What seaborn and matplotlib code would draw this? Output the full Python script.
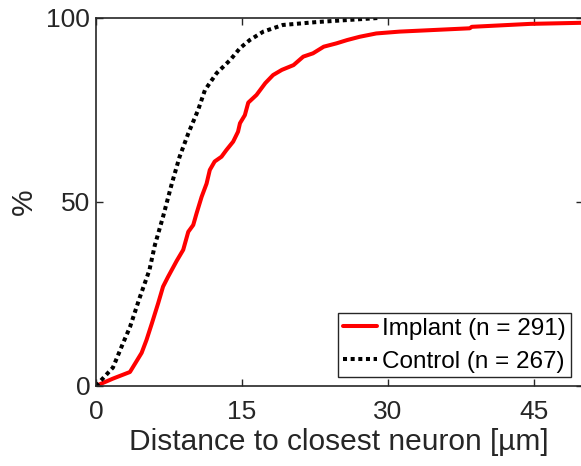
import matplotlib
matplotlib.use("Agg")
import matplotlib.pyplot as plt
import seaborn as sns
import pandas as pd

# cumulative distribution of distance to closest neuron
implant_x = [0, 1.75, 3.5, 4.7, 5.2, 5.75, 6.4, 6.9, 7.4, 8.3, 8.97, 9.49, 10.0,
             10.34, 10.86, 11.37, 11.7, 12.2, 12.9, 13.4, 14.1, 14.6, 14.8, 15.3,
             15.65, 16.5, 17.4, 18.2, 19.1, 20.3, 21.3, 22.3, 23.4, 24.7, 25.8,
             27.1, 28.8, 31.2, 38.4, 38.6, 44.6, 50.0]
implant_y = [0, 2, 3.8, 9, 12.5, 17, 22.5, 27, 29.6, 34, 37, 41.9, 43.75,
             46.9, 51.4, 55, 58.7, 61, 62.3, 64.1, 66.4, 69.1, 71.4, 73.6,
             77.0, 79.1, 82.3, 84.5, 85.9, 87.2, 89.5, 90.4, 92.2, 93.1, 94,
             94.9, 95.8, 96.3, 97.2, 97.6, 98.4, 98.7]

control_x = [0, 1.75, 2.8, 3.5, 4.5, 5.5, 6.06, 6.9, 7.8, 8.6, 9.5, 10.5, 11.2,
             12.4, 13.8, 14.8, 15.8, 17.2, 19.2, 22.7, 29.0]
control_y = [0, 5, 11.7, 16, 24, 31.5, 38.3, 46, 55, 62.3, 68.7, 75, 80.4,
             85, 88.6, 91.8, 94, 96.3, 98.1, 98.9, 100]

labels = ["Implant (n = 291)", "Control (n = 267)"]

df = pd.concat([
    pd.DataFrame({"x": implant_x, "y": implant_y, "group": labels[0]}),
    pd.DataFrame({"x": control_x, "y": control_y, "group": labels[1]}),
])

sns.set_style("ticks")
plt.rcParams["font.family"] = ["Liberation Sans", "DejaVu Sans"]
plt.rcParams["axes.edgecolor"] = "#262626"

fig = plt.figure(figsize=(5.81, 4.66), dpi=100)
ax = fig.add_axes([0.165, 0.1717, 0.838, 0.7897])

sns.lineplot(data=df, x="x", y="y", hue="group", style="group",
             palette={labels[0]: "#ff0000", labels[1]: "black"},
             dashes={labels[0]: "", labels[1]: (1, 0.9)},
             estimator=None, linewidth=2.9, ax=ax)
for ln in ax.lines:
    ln.set_dash_capstyle("butt")

ax.set_xlim(0, 50)
ax.set_ylim(0, 100)
ax.set_xticks([0, 15, 30, 45])
ax.set_yticks([0, 50, 100])
ax.tick_params(direction="in", length=5, width=1, labelsize=19, colors="#262626",
               top=True, right=True, pad=4)
ax.tick_params(axis="x", pad=10)
for sp in ax.spines.values():
    sp.set_linewidth(1.2)
ax.set_xlabel("Distance to closest neuron [µm]", fontsize=21.5, color="#262626",
              labelpad=3)
ax.set_ylabel("%", fontsize=21.5, color="#262626", labelpad=6)

leg = ax.legend(loc="lower right", fontsize=17.5, frameon=True, fancybox=False,
                edgecolor="#262626", framealpha=1, borderpad=0.2,
                handlelength=1.4, handletextpad=0.2, labelspacing=0.45,
                borderaxespad=0.2, bbox_to_anchor=(0.985, 0.01))
leg.get_frame().set_linewidth(1.0)
for t in leg.get_texts():
    t.set_color("black")

fig.savefig("out.png", dpi=100)
